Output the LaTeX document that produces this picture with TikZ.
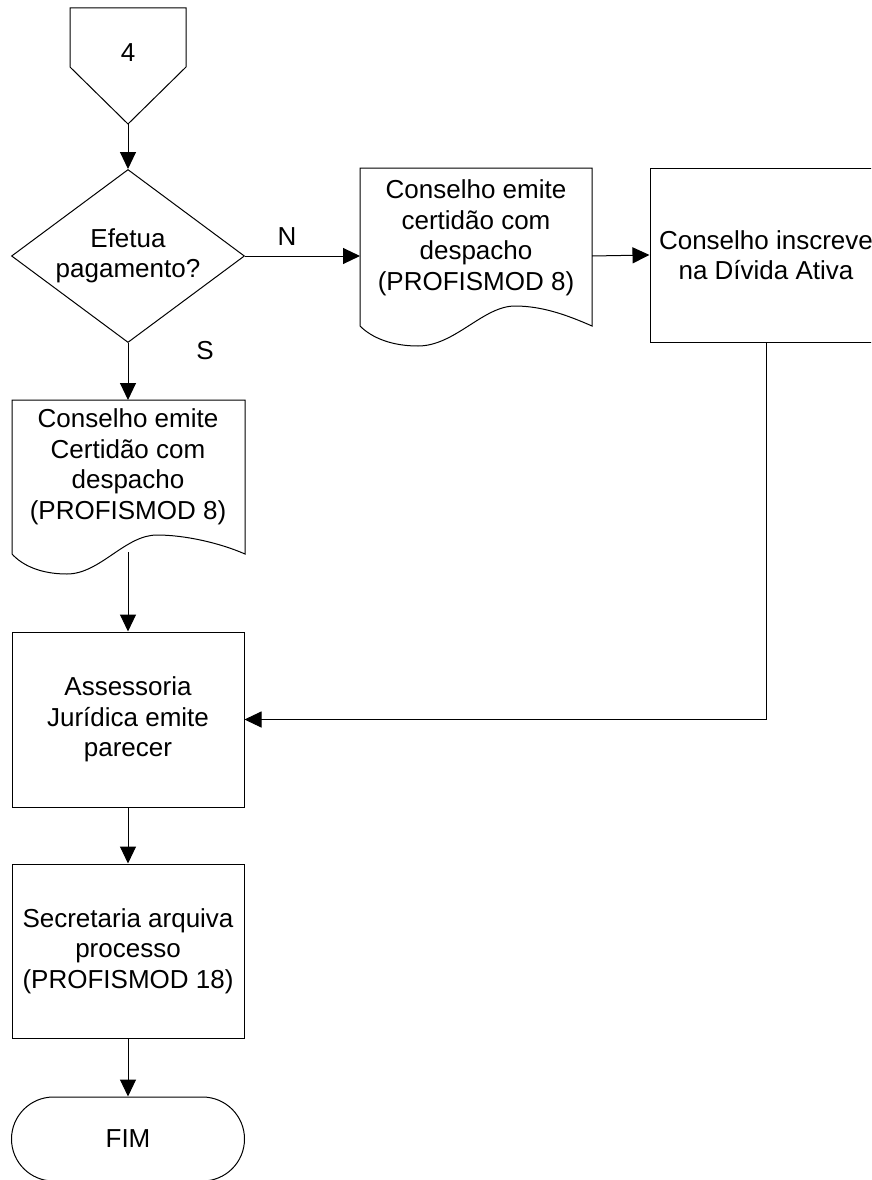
\documentclass[tikz,border=0pt]{standalone}
\usepackage{fontspec}
\setmainfont{Liberation Sans}
\usetikzlibrary{arrows.meta,shapes.geometric}
\begin{document}
\begin{tikzpicture}[x=1pt,y=-1pt,
  line width=1pt,
  lbl/.style={font=\fontsize{26}{30.5}\selectfont, align=center, inner sep=0pt},
  procbox/.style={draw, rectangle, minimum width=232pt, minimum height=174pt, lbl},
  flow/.style={-{Triangle[length=17pt,width=16pt]}},
]
\useasboundingbox (0,0) rectangle (871,1180);
\clip (0,0) rectangle (871,1180);

% off-page connector "4"
\draw (70,8) -- (186,8) -- (186,67) -- (128,124) -- (70,67) -- cycle;
\node[lbl] (conn) at (128,53) {4};
\coordinate (connB) at (128,124);

% decision
\node[draw, diamond, minimum width=233pt, minimum height=173pt, inner sep=0pt] (dec) at (128,256) {};
\node[lbl] (decTxt) at (dec) {Efetua\\pagamento?};

% document: payment made
\draw (12,554) -- (12,400) -- (245,400) -- (245,554)
  .. controls (220,543) and (185,535) .. (157,535)
  .. controls (125,535) and (100,574) .. (67,574)
  .. controls (40,574) and (22,565) .. (12,554) -- cycle;
\node[lbl] (docS) at (128,467) {Conselho emite\\Certidão com\\despacho\\(PROFISMOD 8)};
\coordinate (docSn) at (128,400);
\coordinate (docSs) at (128,552);

% document: payment not made
\draw (360,326) -- (360,168) -- (592,168) -- (592,326)
  .. controls (567,315) and (542,306) .. (515,306)
  .. controls (483,306) and (455,346) .. (418,346)
  .. controls (392,346) and (372,338) .. (360,326) -- cycle;
\node[lbl] (docN) at (476,238) {Conselho emite\\certidão com\\despacho\\(PROFISMOD 8)};
\coordinate (docNw) at (360,256);
\coordinate (docNe) at (592,256);

% process boxes
\node[procbox] (insc) at (766,255) {Conselho inscreve\\na Dívida Ativa};
\node[procbox, minimum height=175pt] (assess) at (128,719.5) {Assessoria\\Jurídica emite\\parecer};
\node[procbox] (sec) at (128,951) {Secretaria arquiva\\processo\\(PROFISMOD 18)};

% terminator
\node[draw, rectangle, rounded corners=42pt, minimum width=233pt, minimum height=84pt, lbl] (fim) at (128,1139) {FIM};

% connectors
\draw[flow] (connB) -- (dec.north);
\draw[flow] (dec.east) -- (docNw);
\node[lbl] (lblN) at (287,237) {N};
\draw[flow] (dec.south) -- (docSn);
\node[lbl] (lblS) at (205,351) {S};
\draw[flow] (docNe) -- (insc.west);
\draw[flow] (insc.south) |- (assess.east);
\draw[flow] (docSs) -- (assess.north);
\draw[flow] (assess.south) -- (sec.north);
\draw[flow] (sec.south) -- (fim.north);
\end{tikzpicture}
\end{document}
